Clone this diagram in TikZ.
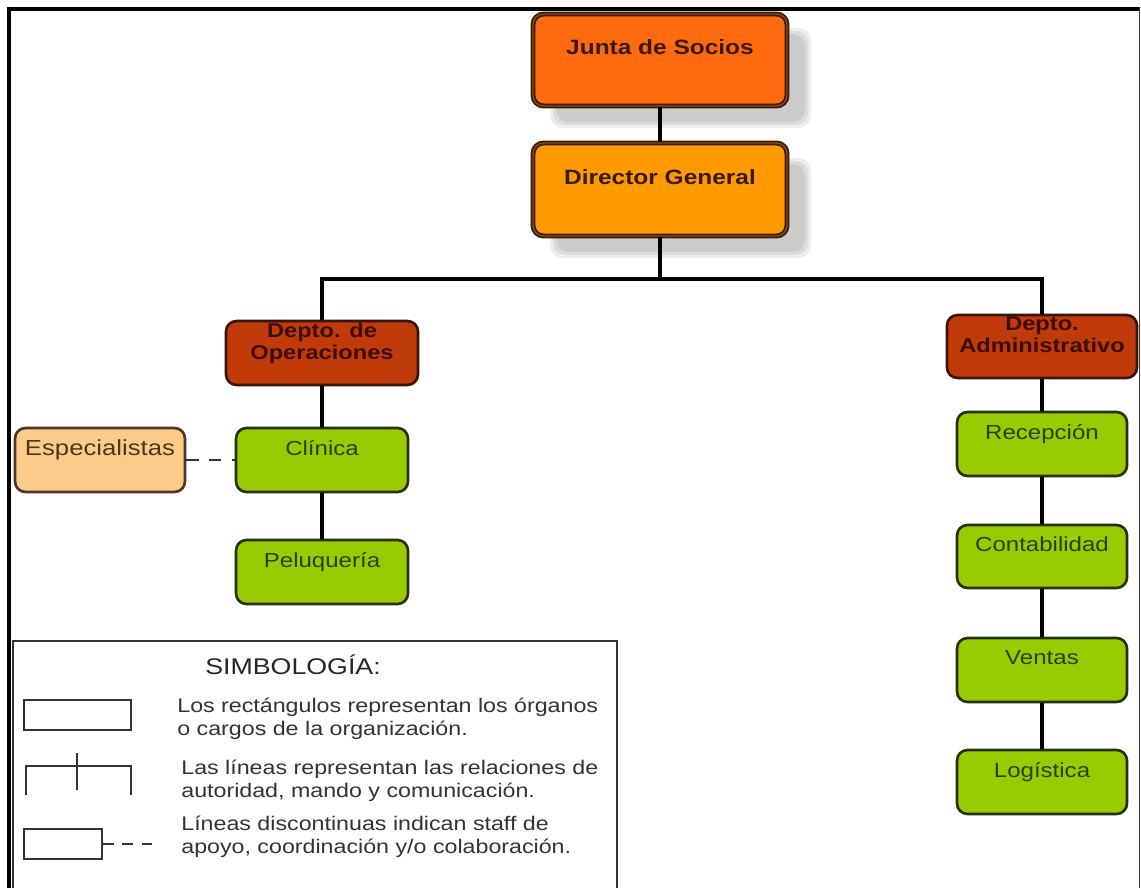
\documentclass[tikz,border=0pt]{standalone}
\usepackage{fontspec}
\setmainfont{Liberation Sans}[FakeStretch=1.18]
\usetikzlibrary{fit}
\definecolor{jfill}{HTML}{FF6A0E}
\definecolor{dfill}{HTML}{FF9A00}
\definecolor{topedge}{HTML}{3A1C08}
\definecolor{topmid}{HTML}{8A4A18}
\definecolor{toptext}{HTML}{3A1A0A}
\definecolor{deptfill}{HTML}{C03A0A}
\definecolor{deptedge}{HTML}{3A1408}
\definecolor{depttext}{HTML}{3E0E02}
\definecolor{greenfill}{HTML}{99CC00}
\definecolor{greenedge}{HTML}{26300E}
\definecolor{greentext}{HTML}{2A4212}
\definecolor{espfill}{HTML}{FCCB8A}
\definecolor{espedge}{HTML}{4A3622}
\definecolor{esptext}{HTML}{4A3818}
\definecolor{legendgray}{HTML}{333333}
\begin{document}
\begin{tikzpicture}[x=0.02cm,y=-0.02cm,
  conn/.style={line width=2.4pt, draw=black},
  staff/.style={line width=1.2pt, draw=black!80, dash pattern=on 7pt off 6pt},
  topbox/.style={draw=topedge, double=topmid, double distance=0.8pt, line width=1pt, rounded corners=6pt, inner sep=0pt},
  deptbox/.style={draw=deptedge, line width=1.5pt, fill=deptfill, rounded corners=6pt, inner sep=0pt},
  greenbox/.style={draw=greenedge, line width=1.5pt, fill=greenfill, rounded corners=6pt, inner sep=0pt},
  espbox/.style={draw=espedge, line width=1.5pt, fill=espfill, rounded corners=6pt, inner sep=0pt},
  shade/.style={fill=black, opacity=0.07, rounded corners=7pt},
  toplbl/.style={inner sep=0pt, anchor=base, text=toptext, font=\fontsize{11.8}{13}\selectfont\bfseries},
  deptlbl/.style={inner sep=0pt, align=center, text=depttext, font=\fontsize{11.4}{12.6}\selectfont\bfseries},
  greenlbl/.style={inner sep=0pt, anchor=base, text=greentext, font=\fontsize{11.6}{13}\selectfont},
  esplbl/.style={inner sep=0pt, anchor=base, text=esptext, font=\fontsize{12.4}{13}\selectfont},
  legtext/.style={inner sep=0pt, anchor=north west, align=left, text=legendgray, font=\fontsize{11.2}{12.8}\selectfont},
  legshape/.style={draw=legendgray, line width=1.1pt},
  frameline/.style={draw=black, line width=2pt}
]
\useasboundingbox (0,0) rectangle (1141,888);
\fill[white] (0,0) rectangle (1141,888);

% outer frame
\draw[frameline] (9,888) -- (9,9) -- (1139.5,9);
\draw[draw=black!75, line width=1pt] (1139.5,9) -- (1139.5,888);

% soft shadows
\foreach \s in {-3,0,3}{
  \fill[shade] (553+\s,31+\s) rectangle (808-\s,125-\s);
  \fill[shade] (553+\s,161+\s) rectangle (808-\s,255-\s);
}

% top boxes
\node[topbox, fill=jfill, fit={(533,14) (787,106)}] (j) {};
\node[toplbl] (jt) at (660,55) {Junta de Socios};
\node[topbox, fill=dfill, fit={(533,143) (787,236)}] (d) {};
\node[toplbl] (dt) at (660,185) {Director General};

% departments
\node[deptbox, fit={(226,321) (418,385)}] (ops) {};
\node[deptlbl] (opst) at (322,343) {Depto. de\\Operaciones};
\node[deptbox, fit={(947,315) (1137,378)}] (adm) {};
\node[deptlbl] (admt) at (1042,335) {Depto.\\Administrativo};

% left column
\node[espbox, fit={(15,428) (185,492)}] (esp) {};
\node[esplbl] (espt) at (100,455) {Especialistas};
\node[greenbox, fit={(236,428) (408,492)}] (cli) {};
\node[greenlbl] (clit) at (322,455) {Clínica};
\node[greenbox, fit={(236,540) (408,604)}] (pel) {};
\node[greenlbl] (pelt) at (322,567) {Peluquería};

% right column
\node[greenbox, fit={(957,412) (1127,476)}] (rec) {};
\node[greenlbl] (rect) at (1042,439) {Recepción};
\node[greenbox, fit={(957,525) (1127,588)}] (con) {};
\node[greenlbl] (cont) at (1042,551) {Contabilidad};
\node[greenbox, fit={(957,638) (1127,702)}] (ven) {};
\node[greenlbl] (vent) at (1042,664) {Ventas};
\node[greenbox, fit={(957,750) (1127,814)}] (log) {};
\node[greenlbl] (logt) at (1042,777) {Logística};

% connectors
\coordinate (bar) at (660,279);
\draw[conn] (j) -- (d);
\draw[conn] (d) -- (bar);
\draw[conn] (ops.north) |- (bar) -| (adm.north);
\draw[conn] (ops) -- (cli);
\draw[conn] (cli) -- (pel);
\draw[staff] (esp) -- (cli);
\draw[conn] (adm) -- (rec);
\draw[conn] (rec) -- (con);
\draw[conn] (con) -- (ven);
\draw[conn] (ven) -- (log);

% legend
\draw[draw=legendgray, line width=1.2pt] (13,888) -- (13,641) -- (617,641) -- (617,888);
\node[inner sep=0pt, anchor=base west, text=black!85, font=\fontsize{12.9}{15}\selectfont] (sim) at (205,674) {SIMBOLOGÍA:};
\node[legshape, inner sep=0pt, fit={(24,700) (131,730)}] (lr1) {};
\node[legtext] (lt1) at (177,698) {Los rectángulos representan los órganos\\o cargos de la organización.};
\coordinate (lsa) at (26,795);
\coordinate (lsb) at (26,766);
\coordinate (lsc) at (131,766);
\coordinate (lsd) at (131,795);
\coordinate (lst) at (77,753);
\coordinate (lsu) at (77,790);
\draw[legshape] (lsa) -- (lsb) -- (lsc) -- (lsd);
\draw[legshape] (lst) -- (lsu);
\node[legtext] (lt2) at (181,760) {Las líneas representan las relaciones de\\autoridad, mando y comunicación.};
\node[legshape, inner sep=0pt, fit={(24,829) (102,859)}] (lr3) {};
\coordinate (lde) at (155,844);
\draw[legshape, dash pattern=on 6pt off 5pt] (lr3.east |- lde) -- (lde);
\node[legtext] (lt3) at (181,816) {Líneas discontinuas indican staff de\\apoyo, coordinación y/o colaboración.};
\end{tikzpicture}
\end{document}
